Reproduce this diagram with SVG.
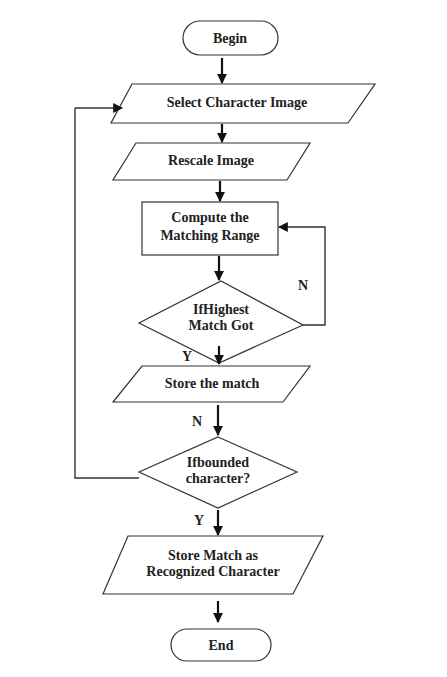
<svg xmlns="http://www.w3.org/2000/svg" width="447" height="677" viewBox="0 0 447 677">
<style>
.shape{fill:#fff;stroke:#333;stroke-width:1.2}
.t{font-family:"Liberation Serif","Times New Roman",serif;font-weight:bold;font-size:14px;fill:#222;text-anchor:middle}
.arr{stroke:#111;stroke-width:2.2;fill:none;marker-end:url(#ah)}
.loop{stroke:#333;stroke-width:1.4;fill:none}
.loopa{stroke:#333;stroke-width:1.4;fill:none;marker-end:url(#ah2)}
</style>
<defs>
<marker id="ah" viewBox="0 0 10 10" refX="9" refY="5" markerWidth="4.5" markerHeight="4.5" orient="auto" markerUnits="strokeWidth">
<path d="M0,0 L10,5 L0,10 z" fill="#111"/>
</marker>
<marker id="ah2" viewBox="0 0 10 10" refX="9" refY="5" markerWidth="7" markerHeight="7" orient="auto" markerUnits="strokeWidth">
<path d="M0,0 L10,5 L0,10 z" fill="#111"/>
</marker>
</defs>
<rect width="447" height="677" fill="#fff"/>
<g id="begin">
<rect class="shape" x="183" y="21" width="95" height="34" rx="17" ry="17"/>
<text class="t" x="230" y="43">Begin</text>
</g>
<g id="select">
<polygon class="shape" points="132,84 375,84 348,123 111,123"/>
<text class="t" x="237" y="107">Select Character Image</text>
</g>
<g id="rescale">
<polygon class="shape" points="136,143 310,143 287,180 113,180"/>
<text class="t" x="211" y="165">Rescale Image</text>
</g>
<g id="compute">
<rect class="shape" x="142" y="202" width="136" height="53"/>
<text class="t" x="210" y="222">Compute the</text>
<text class="t" x="210" y="240">Matching Range</text>
</g>
<g id="highest">
<polygon class="shape" points="221,281 303,325 219,363 139,323"/>
<text class="t" x="221" y="314">IfHighest</text>
<text class="t" x="221" y="330">Match Got</text>
</g>
<g id="store">
<polygon class="shape" points="142,366 310,366 283,402 113,402"/>
<text class="t" x="212" y="388">Store the match</text>
</g>
<g id="bounded">
<polygon class="shape" points="218,437 297,472 218,508 139,472"/>
<text class="t" x="218" y="467">Ifbounded</text>
<text class="t" x="218" y="483">character?</text>
</g>
<g id="recognized">
<polygon class="shape" points="128,536 323,536 293,594 103,594"/>
<text class="t" x="213" y="560">Store Match as</text>
<text class="t" x="213" y="576">Recognized Character</text>
</g>
<g id="end">
<rect class="shape" x="171" y="629" width="100" height="32" rx="16" ry="16"/>
<text class="t" x="221" y="650">End</text>
</g>
<g id="connectors">
<line class="arr" x1="222" y1="58" x2="222" y2="83"/>
<line class="arr" x1="222" y1="124" x2="222" y2="142"/>
<line class="arr" x1="220" y1="181" x2="220" y2="201"/>
<line class="arr" x1="219" y1="256" x2="219" y2="280"/>
<polyline class="loopa" points="303,325 325,325 325,227 279,227"/>
<line class="arr" x1="219" y1="346" x2="219" y2="364"/>
<line class="arr" x1="218" y1="405" x2="218" y2="435"/>
<line class="arr" x1="218" y1="510" x2="218" y2="535"/>
<polyline class="loop" points="139,478 75,478 75,108"/>
<line class="loopa" x1="75" y1="108" x2="122" y2="108"/>
<line class="arr" x1="218" y1="601" x2="218" y2="622"/>
<text class="t" x="303" y="290">N</text>
<text class="t" x="187" y="361">Y</text>
<text class="t" x="197" y="426">N</text>
<text class="t" x="199" y="525">Y</text>
</g>
</svg>
